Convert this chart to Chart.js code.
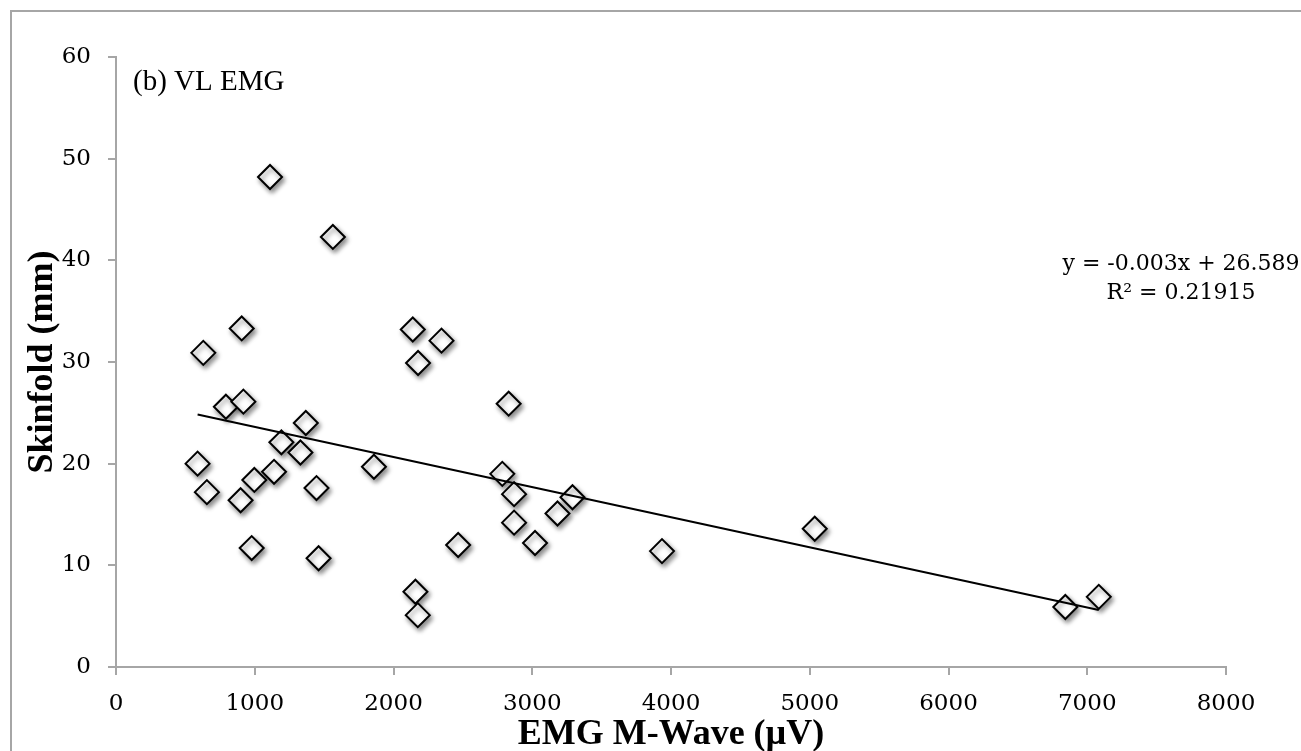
<!DOCTYPE html>
<html>
<head>
<meta charset="utf-8">
<script src="https://cdn.jsdelivr.net/npm/chart.js@4.4.1/dist/chart.umd.min.js"></script>
<style>
  html, body { margin: 0; padding: 0; background: #fff; }
  #wrap { width: 1301px; height: 751px; position: relative; }
</style>
</head>
<body>
<div id="wrap"><canvas id="skinfoldChart"></canvas></div>
<script>
// EMG M-wave amplitude (µV) and skinfold (mm)
const emgWave = [1110, 1563, 906, 629, 2139, 2346, 2177, 792, 918, 2830,
                 1368, 1192, 1329, 588, 1859, 1139, 997, 655, 898, 1445,
                 978, 1460, 2158, 2175, 2466, 2784, 2869, 2869, 3020, 3182,
                 3290, 3935, 5036, 6842, 7083];
const skinfold = [48.2, 42.3, 33.3, 30.9, 33.2, 32.1, 29.9, 25.6, 26.1, 25.9,
                  24.0, 22.1, 21.1, 20.0, 19.7, 19.2, 18.4, 17.2, 16.4, 17.6,
                  11.7, 10.7, 7.4, 5.1, 12.0, 19.0, 17.0, 14.2, 12.2, 15.1,
                  16.7, 11.4, 13.6, 5.9, 6.9];

const xTickValues = [0, 1000, 2000, 3000, 4000, 5000, 6000, 7000, 8000];
const yTickValues = [0, 10, 20, 30, 40, 50, 60];

const panelLabel = '(b) VL EMG';
const equationLines = ['y = -0.003x + 26.589', 'R\u00B2 = 0.21915'];

// least squares fit for the trendline
function linearFit(xs, ys) {
    const n = xs.length;
    let sx = 0, sy = 0, sxx = 0, sxy = 0;
    for (let i = 0; i < n; i++) {
        sx += xs[i]; sy += ys[i];
        sxx += xs[i] * xs[i]; sxy += xs[i] * ys[i];
    }
    const slope = (n * sxy - sx * sy) / (n * sxx - sx * sx);
    const intercept = (sy - slope * sx) / n;
    return { slope, intercept };
}

const fit = linearFit(emgWave, skinfold);
const xMin = Math.min(...emgWave);
const xMax = Math.max(...emgWave);
const trendPoints = [xMin, xMax].map(x => ({ x: x, y: fit.slope * x + fit.intercept }));
const scatterPoints = emgWave.map((x, i) => ({ x: x, y: skinfold[i] }));

const axisGrey = '#a6a6a6';
const tickFont = { family: 'DejaVu Serif', size: 23 };

// shadow under the diamond markers only
const markerShadow = {
    id: 'markerShadow',
    beforeDatasetDraw(chart, args) {
        if (args.index === 1) {
            const ctx = chart.ctx;
            ctx.save();
            ctx.shadowColor = 'rgba(0, 0, 0, 0.45)';
            ctx.shadowBlur = 5;
            ctx.shadowOffsetX = 2;
            ctx.shadowOffsetY = 3;
        }
    },
    afterDatasetDraw(chart, args) {
        if (args.index === 1) chart.ctx.restore();
    }
};

// outer frame, panel label and trendline equation
const annotations = {
    id: 'annotations',
    beforeDraw(chart) {
        const ctx = chart.ctx;
        ctx.save();
        ctx.strokeStyle = axisGrey;
        ctx.lineWidth = 2;
        ctx.beginPath();
        ctx.moveTo(11, chart.height + 5);
        ctx.lineTo(11, 11);
        ctx.lineTo(chart.width + 5, 11);
        ctx.stroke();
        ctx.restore();
    },
    afterDraw(chart) {
        const ctx = chart.ctx;
        ctx.save();
        ctx.fillStyle = '#000';
        ctx.textBaseline = 'middle';
        ctx.font = '29px "Liberation Serif"';
        ctx.textAlign = 'left';
        ctx.fillText(panelLabel, 133, 82);
        ctx.font = '22px "DejaVu Serif"';
        ctx.textAlign = 'center';
        ctx.fillText(equationLines[0], 1181, 264);
        ctx.fillText(equationLines[1], 1181, 293);
        ctx.restore();
    }
};

const ctx = document.getElementById('skinfoldChart').getContext('2d');
const skinfoldChart = new Chart(ctx, {
    type: 'scatter',
    data: {
        datasets: [
            {
                type: 'line',
                label: 'Linear fit',
                data: trendPoints,
                borderColor: '#000',
                borderWidth: 2,
                pointRadius: 0,
                fill: false,
                tension: 0
            },
            {
                label: 'Skinfold',
                data: scatterPoints,
                pointStyle: 'rectRot',
                pointRadius: 12,
                pointBackgroundColor: '#fff',
                pointBorderColor: '#000',
                pointBorderWidth: 2
            }
        ]
    },
    options: {
        responsive: true,
        maintainAspectRatio: false,
        animation: false,
        layout: {
            padding: { left: 10, top: 57, right: 75, bottom: 0 }
        },
        plugins: {
            legend: { display: false },
            tooltip: { enabled: false }
        },
        scales: {
            x: {
                type: 'linear',
                min: 0,
                max: 8000,
                afterBuildTicks: scale => { scale.ticks = xTickValues.map(v => ({ value: v })); },
                afterFit: scale => { scale.height = 84; },
                border: { color: axisGrey, width: 2 },
                grid: { display: true, drawOnChartArea: false, drawTicks: true, tickLength: 8, color: axisGrey, lineWidth: 2 },
                ticks: { color: '#000', font: tickFont, padding: 15, maxRotation: 0, callback: v => String(v) },
                title: {
                    display: true,
                    text: 'EMG M-Wave (\u00B5V)',
                    color: '#000',
                    font: { family: 'Liberation Serif', size: 36, weight: 'bold', lineHeight: 1 },
                    padding: { top: 0, bottom: -2 }
                }
            },
            y: {
                type: 'linear',
                min: 0,
                max: 60,
                afterBuildTicks: scale => { scale.ticks = yTickValues.map(v => ({ value: v })); },
                afterFit: scale => { scale.width = 106; },
                border: { color: axisGrey, width: 2 },
                grid: { display: true, drawOnChartArea: false, drawTicks: true, tickLength: 8, color: axisGrey, lineWidth: 2 },
                ticks: { color: '#000', font: tickFont, padding: 17, callback: v => String(v) },
                title: {
                    display: true,
                    text: 'Skinfold (mm)',
                    color: '#000',
                    font: { family: 'Liberation Serif', size: 36, weight: 'bold', lineHeight: 1 },
                    padding: { top: 15, bottom: 0 }
                }
            }
        }
    },
    plugins: [markerShadow, annotations]
});
</script>
</body>
</html>
